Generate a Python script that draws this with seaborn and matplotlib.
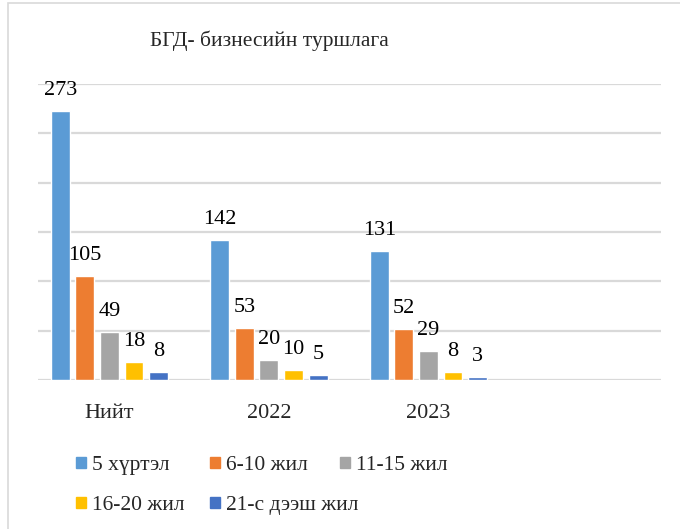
import matplotlib
matplotlib.use('Agg')
import matplotlib.pyplot as plt
import matplotlib.patches as mpatches
import seaborn as sns
import pandas as pd

# chart data
groups = ['Нийт', '2022', '2023']
series = ['5 хүртэл', '6-10 жил', '11-15 жил', '16-20 жил', '21-с дээш жил']
values = {
    '5 хүртэл': [273, 142, 131],
    '6-10 жил': [105, 53, 52],
    '11-15 жил': [49, 20, 29],
    '16-20 жил': [18, 10, 8],
    '21-с дээш жил': [8, 5, 3],
}
colors = ['#5B9BD5', '#ED7D31', '#A5A5A5', '#FFC000', '#4472C4']
title = 'БГД- бизнесийн туршлага'

rows = [[g, s, values[s][i]] for s in series for i, g in enumerate(groups)]
df = pd.DataFrame(rows, columns=['group', 'series', 'value'])

sns.set_style('white')
plt.rcParams['font.family'] = 'serif'
plt.rcParams['font.serif'] = ['Liberation Serif', 'DejaVu Serif']

W, H = 680, 529
FS = 15.5
fig = plt.figure(figsize=(W / 100, H / 100), dpi=100)
ax = fig.add_axes([38 / W, (H - 380) / H, (661 - 38) / W, (380 - 84) / H])

sns.barplot(data=df, x='group', y='value', hue='series', order=groups,
            hue_order=series, palette=colors, width=0.77, gap=0.23,
            saturation=1, legend=False, ax=ax, zorder=3)

for cont in ax.containers:
    ax.bar_label(cont, padding=8, fontsize=FS + 0.5, color='#000000')

ax.set_ylim(0, 300)
ax.set_xlim(-0.448, 3.458)
ax.set_yticks(range(0, 301, 50))
ax.yaxis.grid(True, color='#D9D9D9', linewidth=1.6, zorder=0)
ax.set_yticklabels([])
ax.tick_params(axis='y', length=0)
ax.tick_params(axis='x', length=0, pad=17, labelsize=FS + 0.5)
ax.set_xlabel('')
ax.set_ylabel('')
for sp in ax.spines.values():
    sp.set_visible(False)

fig.text(269.5 / W, (H - 41) / H, title, ha='center', va='center', fontsize=FS)

# legend entries placed like the original (3 on first row, 2 on second)
legend_spots = [(76, 456), (210, 456), (340, 456), (76, 496), (210, 496)]
for s, c, (lx, ly) in zip(series, colors, legend_spots):
    fig.legend([mpatches.Patch(color=c)], [s], loc='upper left',
               bbox_to_anchor=(lx / W, (H - ly) / H), frameon=False,
               fontsize=FS, handlelength=0.45, handleheight=0.45,
               handletextpad=0.3, borderpad=0, borderaxespad=0)

# outer chart frame (cut off at right and bottom)
fig.add_artist(mpatches.Rectangle((8 / W, -0.05), 1.0, (H - 3) / H + 0.05,
                                  transform=fig.transFigure, fill=False,
                                  edgecolor='#D9D9D9', linewidth=1.2))

fig.savefig('out.png', dpi=100)
